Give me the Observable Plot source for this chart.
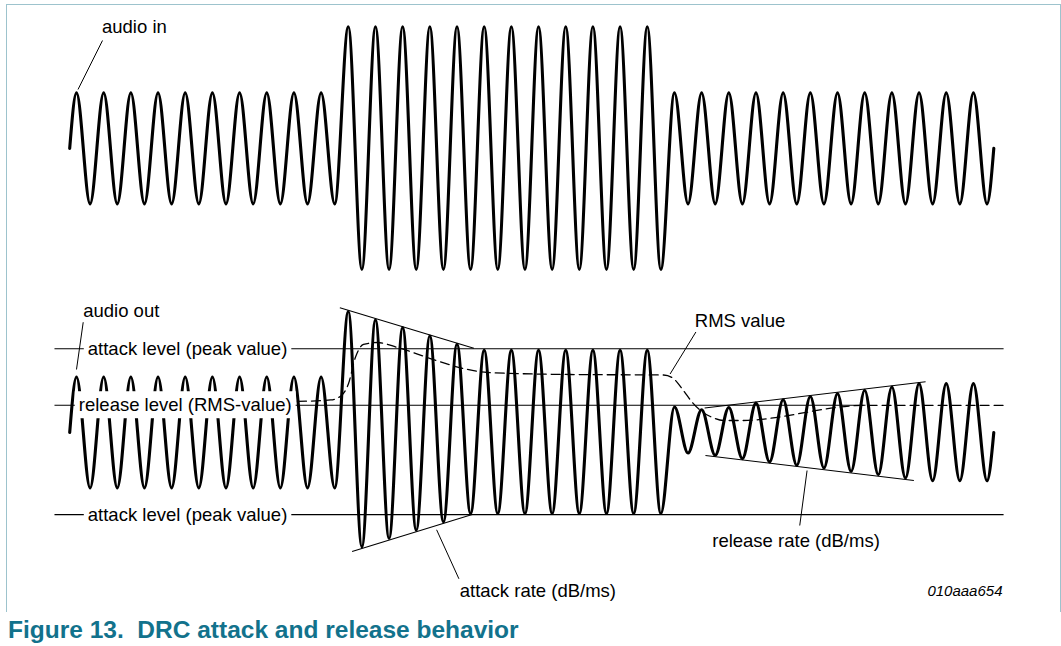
<!DOCTYPE html>
<html><head><meta charset="utf-8">
<script src="https://cdn.jsdelivr.net/npm/d3@7"></script>
<script src="https://cdn.jsdelivr.net/npm/@observablehq/plot@0.6"></script>
<style>
body{margin:0;background:#fff;font-family:"Liberation Sans",Arial,sans-serif;}
#wrap{position:relative;width:1061px;height:646px;overflow:hidden;}
#frame{position:absolute;left:6px;top:4px;width:1055px;height:608px;border:1.5px solid #9dc3cd;border-bottom:none;box-sizing:border-box;}
#chart{position:absolute;left:0;top:0;}
#title{position:absolute;left:8px;top:616px;font-weight:bold;font-size:24.5px;line-height:28px;color:#12728c;white-space:pre;}
</style></head><body>
<div id="wrap"><div id="frame"></div><div id="chart"></div><div id="title">Figure 13.  DRC attack and release behavior</div></div>
<script>
// ---- data (time in signal cycles, level in units of the quiet input amplitude) ----
const inPeaks    = [1,1,1,1,1,1,1,1,1,1, 2.19,2.19,2.19,2.19,2.19,2.19,2.19,2.19,2.19,2.19,2.19,2.19, 1,1,1,1,1,1,1,1,1,1,1,1];
const inTroughs  = [1,1,1,1,1,1,1,1,1,1, 2.18,2.18,2.18,2.18,2.18,2.18,2.18,2.18,2.18,2.18,2.18,2.18, 1,1,1,1,1,1,1,1,1,1,1,1];
const outPeaks   = [1,1,1,1,1,1,1,1,1,1, 2.18,2.03,1.89,1.74,1.59, 1.48,1.48,1.48,1.48,1.48,1.48,1.48, 0.46,0.41,0.45,0.53,0.59,0.65,0.70,0.76,0.82,0.88,0.88,0.88];
const outTroughs = [1,1,1,1,1,1,1,1,1,1, 2.06,1.91,1.76,1.61,1.46, 1.46,1.46,1.46,1.46,1.46,1.46,1.46, 0.37,0.41,0.47,0.53,0.59,0.64,0.70,0.76,0.82,0.87,0.87,0.87];
const inBaseline = 5.12;

// RMS value (dashed)
const rmsT = [8.38, 9.60, 10.0, 10.26, 10.51, 10.81, 11.32, 12.06, 13.27, 14.49, 15.37, 18.42, 21.85, 22.21, 22.58, 22.91, 23.21, 23.65, 24.05, 24.68, 29.28, 34.36];
const rmsV = [0.56, 0.586, 0.667, 0.883, 1.351, 1.586, 1.622, 1.532, 1.333, 1.153, 1.081, 1.045, 1.036, 0.973, 0.757, 0.541, 0.396, 0.270, 0.216, 0.216, 0.49, 0.49];

// level lines: attack (peak), release (RMS), attack (peak)
const levelV    = [1.51, 0.49, -1.48];
const levelFrom = [-0.56, -0.56, -0.56];
const levelTo   = [34.36, 29.28, 34.36];
const levelText = ["attack level (peak value)", "release level (RMS-value)", "attack level (peak value)"];
const levelTextT = [0.666, 0.335, 0.666];

// attack / release rate envelopes [t1, v1, t2, v2]
const rateLines = [
  [9.94, 2.247, 14.87, 1.519],
  [10.39, -2.144, 14.81, -1.477],
  [23.36, 0.441, 31.49, 0.914],
  [23.39, -0.414, 31.06, -0.865]
];
// leader lines [t1, v1, t2, v2]
const leaders = [
  [1.207, 7.063, 0.305, 6.180],
  [0.497, 1.987, 0.25, 1.135],
  [23.04, 1.811, 22.09, 1.054],
  [14.32, -2.636, 13.50, -1.753],
  [26.86, -1.676, 27.13, -0.685]
];
const labelText = ["audio in", "audio out", "RMS value", "attack rate (dB/ms)", "release rate (dB/ms)"];
const labelT = [1.188, 0.497, 23.0, 14.35, 23.64];
const labelV = [7.296, 2.187, 2.016, -2.849, -1.948];
const figId = "010aaa654", figIdT = 34.32, figIdV = -2.863;

// ---- build series from extrema ----
function wave(peaks, troughs, base) {
  const pts = [{t: 0, v: base}];
  peaks.forEach((p, k) => {
    pts.push({t: k + 0.25, v: base + p});
    pts.push({t: k + 0.75, v: base - troughs[k]});
  });
  pts.push({t: peaks.length, v: base});
  return pts;
}
const inWave = wave(inPeaks, inTroughs, inBaseline);
const outWave = wave(outPeaks, outTroughs, 0);
const rms = rmsT.map((t, i) => ({t, v: rmsV[i]}));
const levels = levelV.map((v, i) => ({v, t1: levelFrom[i], t2: levelTo[i], text: levelText[i], tt: levelTextT[i]}));
const segs = a => a.map(([t1, v1, t2, v2]) => ({t1, v1, t2, v2}));
const labels = labelText.map((text, i) => ({text, t: labelT[i], v: labelV[i]}));

const font = '"Liberation Sans", Arial, sans-serif';
const svg = Plot.plot({
  width: 1061, height: 612,
  margin: 0,
  style: {fontFamily: font, background: "transparent", overflow: "visible"},
  x: {domain: [0, 34], range: [69.2, 993.3], axis: null},
  y: {domain: [0, 5], range: [432, 432 - 5 * 55.5], axis: null},
  marks: [
    Plot.link(levels, {x1: "t1", x2: "t2", y1: "v", y2: "v", stroke: "black", strokeWidth: 1.1}),
    Plot.line(rms, {x: "t", y: "v", curve: "monotone-x", stroke: "black", strokeWidth: 1.3, strokeDasharray: "9,5"}),
    Plot.link(segs(rateLines), {x1: "t1", y1: "v1", x2: "t2", y2: "v2", stroke: "black", strokeWidth: 1.1}),
    Plot.line(inWave, {x: "t", y: "v", curve: "monotone-x", stroke: "black", strokeWidth: 3.1}),
    Plot.line(outWave, {x: "t", y: "v", curve: "monotone-x", stroke: "black", strokeWidth: 3.1}),
    Plot.link(segs(leaders), {x1: "t1", y1: "v1", x2: "t2", y2: "v2", stroke: "black", strokeWidth: 1}),
    Plot.text(levels, {x: "tt", y: "v", text: "text", textAnchor: "start", fontSize: 18.5, fill: "black"}),
    Plot.text(labels, {x: "t", y: "v", text: "text", textAnchor: "start", fontSize: 18.5, fill: "black"}),
    Plot.text([figId], {x: figIdT, y: figIdV, text: d => d, textAnchor: "end", fontSize: 15, fontStyle: "italic", fill: "black"})
  ]
});
document.getElementById("chart").append(svg);
const boxed = new Set(levelText);
Array.from(svg.querySelectorAll("text")).forEach(t => {
  if (!boxed.has(t.textContent.trim())) return;
  const b = t.getBBox();
  const r = document.createElementNS("http://www.w3.org/2000/svg", "rect");
  r.setAttribute("x", b.x - 4);
  r.setAttribute("y", b.y - 3);
  r.setAttribute("width", b.width + 8);
  r.setAttribute("height", b.height + 6);
  r.setAttribute("fill", "white");
  r.setAttribute("stroke", "none");
  for (const a of ["transform", "x", "y"]) {
    if (a === "transform" && t.getAttribute(a)) r.setAttribute(a, t.getAttribute(a));
  }
  t.parentNode.insertBefore(r, t);
});
</script></body></html>
